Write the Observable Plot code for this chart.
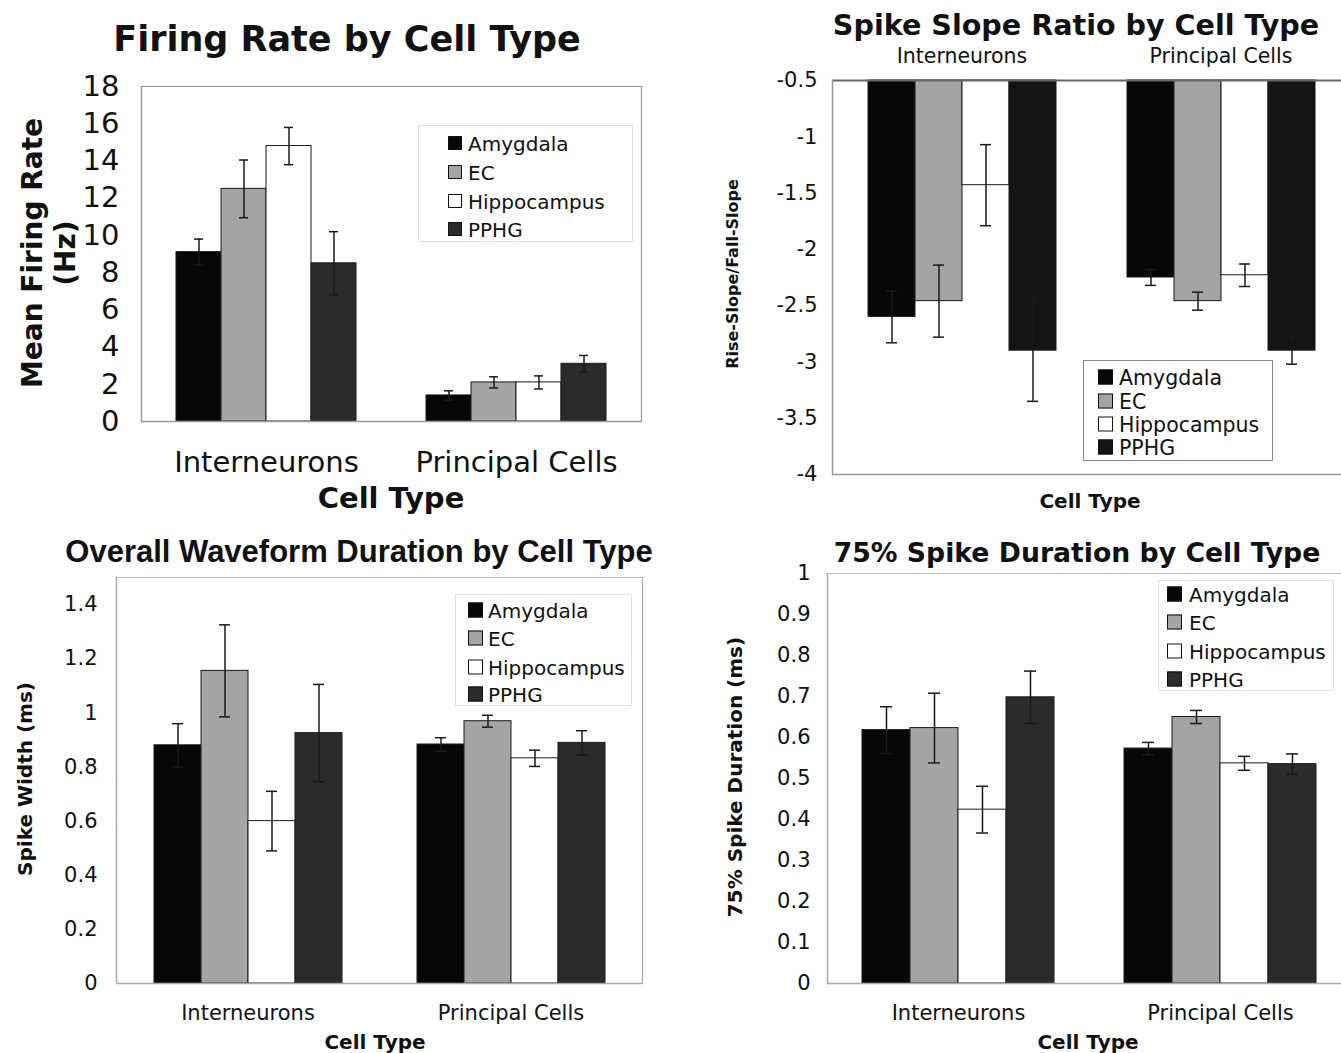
<!DOCTYPE html>
<html><head><meta charset="utf-8">
<script src="https://cdn.jsdelivr.net/npm/d3@7"></script>
<script src="https://cdn.jsdelivr.net/npm/@observablehq/plot@0.6"></script>
<style>
html,body{margin:0;padding:0;background:#fff;overflow:hidden}
#root{position:relative;width:1341px;height:1053px;overflow:hidden;background:#fff;font-family:"DejaVu Sans",Verdana,sans-serif;color:#111}
.lbl{position:absolute;white-space:nowrap;line-height:1;transform:translate(-50%,-50%);font-weight:bold;color:#111}
.rot{transform:translate(-50%,-50%) rotate(-90deg);text-align:center}
.plotwrap{position:absolute}
.plotwrap svg{max-width:none !important}
.legend{position:absolute;background:#fff;box-sizing:border-box}
.legend .row{position:absolute;white-space:nowrap;line-height:1;transform:translateY(-50%);color:#111}
.legend .sw{position:absolute;box-sizing:border-box;border:1px solid #111;transform:translateY(-50%)}
</style></head><body><div id="root"></div>
<script>
// ---------- data ----------
const cellTypes = ["Interneurons", "Principal Cells"];
const regions = ["Amygdala", "EC", "Hippocampus", "PPHG"];

// Firing rate (Hz): rows = cell types, columns = regions
const firingMean = [[9.1, 12.5, 14.8, 8.5], [1.4, 2.1, 2.1, 3.1]];
const firingErr  = [[0.7, 1.55, 1.0, 1.7], [0.25, 0.3, 0.35, 0.45]];

// Spike slope ratio (rise-slope / fall-slope)
const slopeMean = [[-2.6, -2.46, -1.43, -2.9], [-2.25, -2.46, -2.23, -2.9]];
const slopeErr  = [[0.23, 0.32, 0.36, 0.45], [0.07, 0.08, 0.1, 0.12]];

// Overall waveform duration: spike width (ms)
const widthMean = [[0.88, 1.155, 0.6, 0.925], [0.883, 0.969, 0.832, 0.889]];
const widthErr  = [[0.08, 0.17, 0.11, 0.18], [0.025, 0.022, 0.03, 0.045]];

// 75% spike duration (ms)
const dur75Mean = [[0.618, 0.623, 0.424, 0.698], [0.573, 0.65, 0.537, 0.535]];
const dur75Err  = [[0.057, 0.085, 0.057, 0.064], [0.015, 0.016, 0.017, 0.025]];

// tick values
const firingTicks = [0, 2, 4, 6, 8, 10, 12, 14, 16, 18];
const slopeTicks  = [-4, -3.5, -3, -2.5, -2, -1.5, -1, -0.5];
const widthTicks  = [0, 0.2, 0.4, 0.6, 0.8, 1, 1.2, 1.4];
const dur75Ticks  = [0, 0.1, 0.2, 0.3, 0.4, 0.5, 0.6, 0.7, 0.8, 0.9, 1];

// ---------- styles ----------
const colorsA = ["#070707", "#a4a4a4", "#ffffff", "#2b2b2b"];
const colorsB = ["#070707", "#a4a4a4", "#ffffff", "#141414"];
const fmt = d => String(+d.toFixed(2));

const panels = [
  {
    means: firingMean, errs: firingErr, ticks: firingTicks, yDomain: [0, 18], base: 0,
    colors: colorsA,
    svg: {left: 0, top: 0, width: 660, height: 520, ml: 141, mr: 19, mt: 86, mb: 99},
    pad: 0.747, tickFont: 29, tickPad: 22, fxFont: 29, fxPad: 30, fxAnchor: "bottom",
    topStroke: "#999", topWidth: 1.2, right: true, frameStroke: "#999",
    title: {text: "Firing Rate by Cell Type", x: 347, y: 39, size: 35, family: "DejaVu Sans"},
    ylab: {text: "Mean Firing Rate<br>(Hz)", x: 49, y: 253, size: 28, lh: 33},
    xlab: {x: 391, y: 498, size: 29},
    legend: {left: 418, top: 125, width: 215, height: 117, rows: [141.5, 171, 200, 228], swX: 447, sw: 14, textX: 467, size: 20, border: "#ddd"}
  },
  {
    means: slopeMean, errs: slopeErr, ticks: slopeTicks, yDomain: [-4, -0.5], base: -0.5,
    colors: colorsB,
    svg: {left: 700, top: 0, width: 700, height: 520, ml: 132, mr: 50, mt: 80, mb: 46},
    pad: 0.72, tickFont: 21, tickPad: 15, fxFont: 20.5, fxPad: 18, fxAnchor: "top",
    topStroke: "#666", topWidth: 2, right: false, frameStroke: "#999",
    title: {text: "Spike Slope Ratio by Cell Type", x: 1076, y: 25, size: 28.6, family: "DejaVu Sans"},
    ylab: {text: "Rise-Slope/Fall-Slope", x: 733, y: 274, size: 16, lh: 18},
    xlab: {x: 1090, y: 501, size: 20},
    legend: {left: 1083, top: 360, width: 190, height: 101, rows: [376, 400, 423, 446], swX: 1097, sw: 15, textX: 1118, size: 20.5, border: "#888"}
  },
  {
    means: widthMean, errs: widthErr, ticks: widthTicks, yDomain: [0, 1.5], base: 0,
    colors: colorsA,
    svg: {left: 0, top: 520, width: 660, height: 533, ml: 116, mr: 18, mt: 57, mb: 70},
    pad: 0.74, tickFont: 21, tickPad: 19, fxFont: 21, fxPad: 22, fxAnchor: "bottom",
    topStroke: "#bbb", topWidth: 1.2, right: true, frameStroke: "#aaa",
    title: {text: "Overall Waveform Duration by Cell Type", x: 359, y: 551, size: 31, family: "Liberation Sans"},
    ylab: {text: "Spike Width (ms)", x: 25, y: 779, size: 20, lh: 22},
    xlab: {x: 375, y: 1042, size: 20},
    legend: {left: 455, top: 594, width: 177, height: 112, rows: [609, 637, 666, 693], swX: 467, sw: 15, textX: 487, size: 20, border: "#e2e2e2"}
  },
  {
    means: dur75Mean, errs: dur75Err, ticks: dur75Ticks, yDomain: [0, 1], base: 0,
    colors: colorsA,
    svg: {left: 700, top: 520, width: 700, height: 533, ml: 126, mr: 49, mt: 53, mb: 70},
    pad: 0.71, tickFont: 21, tickPad: 17, fxFont: 21, fxPad: 22, fxAnchor: "bottom",
    topStroke: "#bbb", topWidth: 1.2, right: false, frameStroke: "#aaa",
    title: {text: "75% Spike Duration by Cell Type", x: 1077, y: 553, size: 26.7, family: "DejaVu Sans"},
    ylab: {text: "75% Spike Duration (ms)", x: 735, y: 777, size: 20, lh: 22},
    xlab: {x: 1088, y: 1042, size: 20},
    legend: {left: 1158, top: 580, width: 176, height: 111, rows: [593, 621, 650, 678], swX: 1166, sw: 15, textX: 1188, size: 20, border: "#e2e2e2"}
  }
];

const root = document.getElementById("root");

function addLabel(html, x, y, size, opts = {}) {
  const d = document.createElement("div");
  d.className = "lbl" + (opts.rotate ? " rot" : "");
  d.innerHTML = html;
  d.style.left = x + "px";
  d.style.top = y + "px";
  d.style.fontSize = size + "px";
  if (opts.family) d.style.fontFamily = `"${opts.family}", sans-serif`;
  if (opts.lh) d.style.lineHeight = opts.lh + "px";
  root.appendChild(d);
}

function addLegend(cfg, colors) {
  const L = cfg.legend;
  const box = document.createElement("div");
  box.className = "legend";
  Object.assign(box.style, {left: L.left + "px", top: L.top + "px", width: L.width + "px", height: L.height + "px", border: `1px solid ${L.border}`});
  regions.forEach((r, i) => {
    const sw = document.createElement("div");
    sw.className = "sw";
    Object.assign(sw.style, {left: (L.swX - L.left) + "px", top: (L.rows[i] - L.top) + "px", width: L.sw + "px", height: L.sw + "px", background: colors[i]});
    box.appendChild(sw);
    const t = document.createElement("div");
    t.className = "row";
    t.textContent = r;
    Object.assign(t.style, {left: (L.textX - L.left) + "px", top: (L.rows[i] - L.top + 1) + "px", fontSize: L.size + "px"});
    box.appendChild(t);
  });
  root.appendChild(box);
}

function makePanel(cfg) {
  const data = [];
  cellTypes.forEach((c, i) => regions.forEach((r, j) =>
    data.push({cell: c, region: r, value: cfg.means[i][j], err: cfg.errs[i][j]})));
  const [yLo, yHi] = cfg.yDomain;
  const S = cfg.svg;
  const ink = "#1a1a1a";
  const marks = [
    Plot.barY(data, {fx: "cell", x: "region", y1: cfg.base, y2: "value", fill: "region", stroke: ink, strokeWidth: 1}),
    Plot.ruleX(data, {fx: "cell", x: "region", y1: d => d.value - d.err, y2: d => d.value + d.err, stroke: ink, strokeWidth: 1.5}),
    Plot.tickY(data, {fx: "cell", x: "region", y: d => d.value + d.err, stroke: ink, strokeWidth: 1.5, insetLeft: 18, insetRight: 18}),
    Plot.tickY(data, {fx: "cell", x: "region", y: d => d.value - d.err, stroke: ink, strokeWidth: 1.5, insetLeft: 18, insetRight: 18}),
    Plot.ruleY([yHi], {stroke: cfg.topStroke, strokeWidth: cfg.topWidth}),
    Plot.ruleY([yLo], {stroke: cfg.frameStroke, strokeWidth: 1.5}),
    Plot.frame({anchor: "left", facetAnchor: "left", stroke: cfg.frameStroke, strokeWidth: 1.5}),
    cfg.right ? Plot.frame({anchor: "right", facetAnchor: "right", stroke: cfg.frameStroke, strokeWidth: 1.2}) : null,
    Plot.axisY({ticks: cfg.ticks, tickFormat: fmt, tickSize: 0, tickPadding: cfg.tickPad, fontSize: cfg.tickFont, label: null, fill: "#111"}),
    Plot.axisFx({anchor: cfg.fxAnchor, tickSize: 0, tickPadding: cfg.fxPad, fontSize: cfg.fxFont, label: null, fill: "#111"})
  ];
  const svg = Plot.plot({
    width: S.width, height: S.height,
    marginLeft: S.ml, marginRight: S.mr, marginTop: S.mt, marginBottom: S.mb,
    style: {fontFamily: '"DejaVu Sans", Verdana, sans-serif', background: "transparent", overflow: "visible", maxWidth: "none"},
    fx: {domain: cellTypes, paddingInner: 0, paddingOuter: 0, label: null},
    x: {domain: regions, paddingInner: 0, paddingOuter: cfg.pad, axis: null},
    y: {domain: cfg.yDomain, axis: null},
    color: {domain: regions, range: cfg.colors},
    marks: marks.filter(Boolean)
  });
  svg.style.maxWidth = "none";
  const wrap = document.createElement("div");
  wrap.className = "plotwrap";
  wrap.style.left = S.left + "px";
  wrap.style.top = S.top + "px";
  wrap.style.width = S.width + "px";
  wrap.style.height = S.height + "px";
  wrap.appendChild(svg);
  root.appendChild(wrap);

  addLabel(cfg.title.text, cfg.title.x, cfg.title.y, cfg.title.size, {family: cfg.title.family});
  addLabel(cfg.ylab.text, cfg.ylab.x, cfg.ylab.y, cfg.ylab.size, {rotate: true, lh: cfg.ylab.lh});
  addLabel("Cell Type", cfg.xlab.x, cfg.xlab.y, cfg.xlab.size);
  addLegend(cfg, cfg.colors);
}

panels.forEach(makePanel);
</script></body></html>
